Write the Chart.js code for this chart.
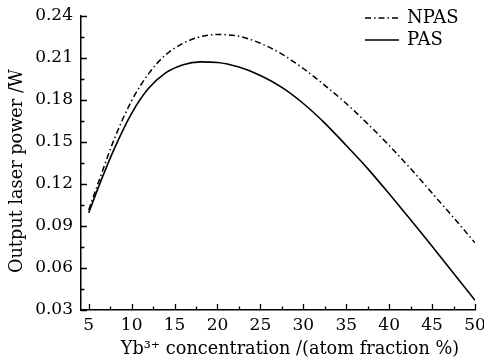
<!DOCTYPE html>
<html>
<head>
<meta charset="utf-8">
<script src="https://cdn.jsdelivr.net/npm/chart.js@4/dist/chart.umd.min.js"></script>
<style>
  html, body { margin: 0; padding: 0; background: #fff; }
  #wrap { width: 484px; height: 361px; }
</style>
</head>
<body>
<div id="wrap"><canvas id="chart"></canvas></div>
<script>
// values
const concentration = [5, 6.5, 8, 10, 12, 14, 16, 18, 20, 22.5, 25, 27.5, 30, 32.5, 35, 37.5, 40, 42.5, 45, 47.5, 50];
const npasPower = [0.1015, 0.1275, 0.1525, 0.1795, 0.199, 0.2125, 0.2205, 0.2252, 0.2268, 0.2255, 0.2205, 0.2128, 0.2025, 0.1905, 0.1775, 0.163, 0.1475, 0.131, 0.1135, 0.096, 0.078];
const pasPower = [0.0995, 0.1235, 0.1455, 0.1705, 0.1885, 0.1995, 0.2052, 0.2072, 0.2068, 0.2035, 0.1975, 0.189, 0.1775, 0.1635, 0.1475, 0.131, 0.113, 0.0945, 0.0755, 0.0563, 0.037];
const xTicks = [5, 7.5, 10, 12.5, 15, 17.5, 20, 22.5, 25, 27.5, 30, 32.5, 35, 37.5, 40, 42.5, 45, 47.5, 50];
const yTicks = [0.03, 0.045, 0.06, 0.075, 0.09, 0.105, 0.12, 0.135, 0.15, 0.165, 0.18, 0.195, 0.21, 0.225, 0.24];
const seriesNames = ['NPAS', 'PAS'];
const xTitle = 'Yb³⁺ concentration /(atom fraction %)';
const yTitle = 'Output laser power /W';

const FONT = 'DejaVu Serif';

function toPoints(xs, ys) {
    return xs.map((x, i) => ({ x: x, y: ys[i] }));
}

// inward tick marks, long for labelled ticks, short for the ones in between
const innerTicks = {
    id: 'innerTicks',
    afterDraw(chart) {
        const ctx = chart.ctx;
        const xs = chart.scales.x, ys = chart.scales.y;
        const area = chart.chartArea;
        ctx.save();
        ctx.strokeStyle = '#000';
        ctx.lineWidth = 1.3;
        ctx.beginPath();
        xTicks.forEach((v) => {
            const px = Math.round(xs.getPixelForValue(v)) + 0.5;
            const len = v % 5 === 0 ? 6 : 3.5;
            ctx.moveTo(px, area.bottom);
            ctx.lineTo(px, area.bottom - len);
        });
        yTicks.forEach((v, i) => {
            const py = Math.round(ys.getPixelForValue(v)) + 0.5;
            const len = i % 2 === 0 ? 6 : 3.5;
            ctx.moveTo(area.left, py);
            ctx.lineTo(area.left + len, py);
        });
        ctx.stroke();
        ctx.restore();
    }
};

// legend inside the plot at top right; axis titles sit a little off centre in the original
const extraText = {
    id: 'extraText',
    afterDraw(chart) {
        const ctx = chart.ctx;
        const area = chart.chartArea;
        ctx.save();
        ctx.fillStyle = '#000';
        ctx.font = '18px "' + FONT + '"';
        ctx.textBaseline = 'middle';
        ctx.textAlign = 'left';
        chart.data.datasets.forEach((ds, i) => {
            const y = 18 + i * 22;
            ctx.strokeStyle = '#000';
            ctx.lineWidth = 1.5;
            ctx.setLineDash(ds.borderDash || []);
            ctx.beginPath();
            ctx.moveTo(365, y);
            ctx.lineTo(399, y);
            ctx.stroke();
            ctx.setLineDash([]);
            ctx.fillText(ds.label, 407, y);
        });
        ctx.font = '17.7px "' + FONT + '"';
        ctx.textAlign = 'center';
        ctx.fillText(xTitle, (area.left + area.right) / 2 + 12, 349);
        ctx.translate(17, (area.top + area.bottom) / 2 + 8);
        ctx.rotate(-Math.PI / 2);
        ctx.fillText(yTitle, 0, 0);
        ctx.restore();
    }
};

new Chart(document.getElementById('chart'), {
    type: 'line',
    data: {
        datasets: [
            {
                label: seriesNames[0],
                data: toPoints(concentration, npasPower),
                borderColor: '#000',
                borderWidth: 1.5,
                borderDash: [6, 3, 1.5, 3],
                pointRadius: 0,
                cubicInterpolationMode: 'monotone',
                fill: false
            },
            {
                label: seriesNames[1],
                data: toPoints(concentration, pasPower),
                borderColor: '#000',
                borderWidth: 1.6,
                pointRadius: 0,
                cubicInterpolationMode: 'monotone',
                fill: false
            }
        ]
    },
    options: {
        responsive: true,
        maintainAspectRatio: false,
        animation: false,
        layout: { padding: { top: 16, right: 9, left: 0, bottom: 0 } },
        plugins: { legend: { display: false }, tooltip: { enabled: false } },
        scales: {
            x: {
                type: 'linear',
                min: 4.1,
                max: 50,
                afterBuildTicks: (s) => { s.ticks = xTicks.map((v) => ({ value: v })); },
                afterFit: (s) => { s.height = 51; s.paddingRight = 0; s.paddingLeft = 0; },
                grid: { display: false, drawTicks: false },
                border: { display: true, color: '#000', width: 1.5 },
                ticks: {
                    autoSkip: false,
                    maxRotation: 0,
                    padding: 5,
                    color: '#000',
                    font: { family: FONT, size: 17 },
                    callback: (v) => (v % 5 === 0 ? String(v) : '')
                }
            },
            y: {
                type: 'linear',
                min: 0.03,
                max: 0.24,
                afterBuildTicks: (s) => { s.ticks = yTicks.map((v) => ({ value: v })); },
                afterFit: (s) => { s.width = 81; s.paddingTop = 0; s.paddingBottom = 0; },
                grid: { display: false, drawTicks: false },
                border: { display: true, color: '#000', width: 1.5 },
                ticks: {
                    autoSkip: false,
                    padding: 8,
                    color: '#000',
                    font: { family: FONT, size: 17 },
                    callback: (v, i) => (i % 2 === 0 ? v.toFixed(2) : '')
                }
            }
        }
    },
    plugins: [innerTicks, extraText]
});
</script>
</body>
</html>
